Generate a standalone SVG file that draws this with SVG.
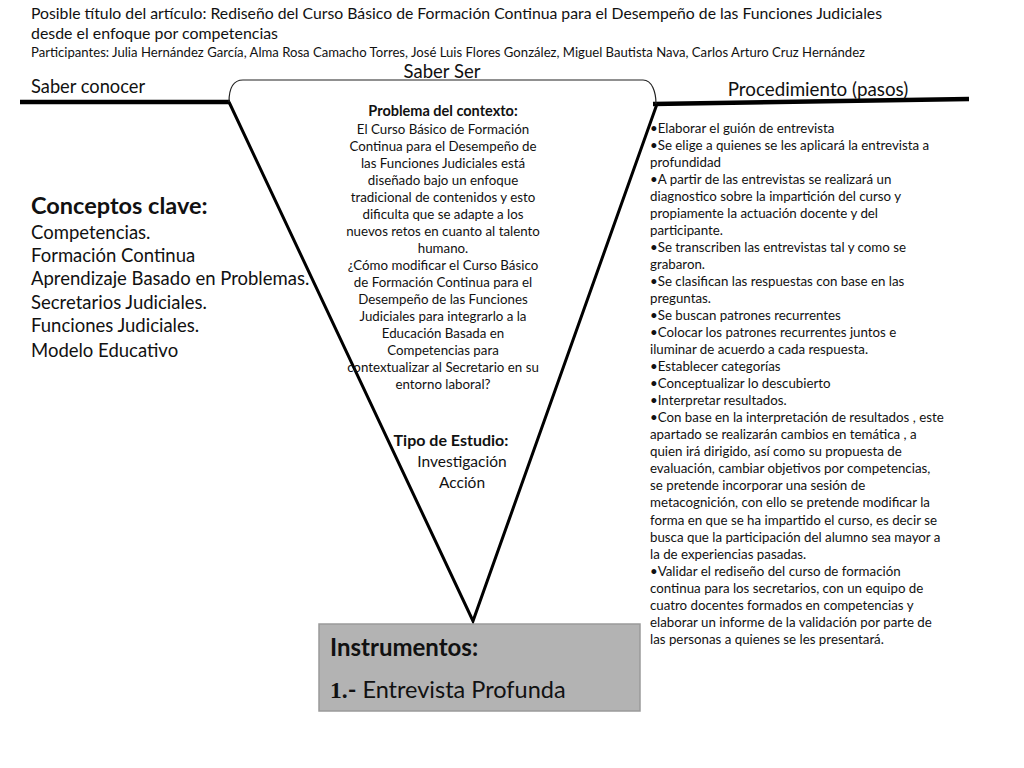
<svg xmlns="http://www.w3.org/2000/svg" width="1024" height="768" viewBox="0 0 1024 768">
<style>
text{font-family:Lato,"Open Sans","Liberation Sans",sans-serif;fill:#111}
.t{font-size:15px}
.p{font-size:13px}
.c{font-size:13.3px;text-anchor:middle}
.b{font-weight:bold}
.k{font-size:18.5px}
.r{font-size:13.3px}
.thick{stroke:#000;stroke-width:4.5;fill:none}
.v{stroke:#000;stroke-width:3;fill:none}
</style>
<rect width="1024" height="768" fill="#fff"/>
<g id="title">
<text class="t" x="31" y="19" textLength="851" lengthAdjust="spacingAndGlyphs">Posible título del artículo: Rediseño del Curso Básico de Formación Continua para el Desempeño de las Funciones Judiciales</text>
<text class="t" x="31" y="39" textLength="247" lengthAdjust="spacingAndGlyphs">desde el enfoque por competencias</text>
<text class="p" x="31" y="57" textLength="834" lengthAdjust="spacingAndGlyphs">Participantes: Julia Hernández García, Alma Rosa Camacho Torres, José Luis Flores González, Miguel Bautista Nava, Carlos Arturo Cruz Hernández</text>
</g>
<g id="connectors">
<path class="thick" d="M20,102 L230,102"/>
<path class="thick" d="M653,104 L969,99"/>
<path class="v" d="M229,102 L473,621 L657,104"/>
<path d="M229,102 C229,90 232,80 243,80 L643,80 C652,80 656,92 656,104" stroke="#222" stroke-width="1.2" fill="none"/>
</g>
<g id="labels">
<text x="442" y="78" style="font-size:18.5px;text-anchor:middle">Saber Ser</text>
<text x="31" y="93" style="font-size:18.3px">Saber conocer</text>
<text x="818" y="96" style="font-size:18.8px;text-anchor:middle">Procedimiento (pasos)</text>
</g>
<g id="problema">
<text class="c b" x="443" y="116" style="font-size:14.5px">Problema del contexto:</text>
<text class="c" x="443" y="134">El Curso Básico de Formación</text>
<text class="c" x="443" y="151">Continua para el Desempeño de</text>
<text class="c" x="443" y="168">las Funciones Judiciales está</text>
<text class="c" x="443" y="185">diseñado bajo un enfoque</text>
<text class="c" x="443" y="202">tradicional de contenidos y esto</text>
<text class="c" x="443" y="219">dificulta que se adapte a los</text>
<text class="c" x="443" y="236">nuevos retos en cuanto al talento</text>
<text class="c" x="443" y="253">humano.</text>
<text class="c" x="443" y="270">¿Cómo modificar el Curso Básico</text>
<text class="c" x="443" y="287">de Formación Continua para el</text>
<text class="c" x="443" y="304">Desempeño de las Funciones</text>
<text class="c" x="443" y="321">Judiciales para integrarlo a la</text>
<text class="c" x="443" y="338">Educación Basada en</text>
<text class="c" x="443" y="355">Competencias para</text>
<text class="c" x="443" y="372">contextualizar al Secretario en su</text>
<text class="c" x="443" y="389">entorno laboral?</text>
</g>
<g id="tipo">
<text x="451" y="446" class="b" style="font-size:16px;text-anchor:middle">Tipo de Estudio:</text>
<text x="462" y="467" style="font-size:15.5px;text-anchor:middle">Investigación</text>
<text x="462" y="488" style="font-size:15.5px;text-anchor:middle">Acción</text>
</g>
<g id="conceptos">
<text x="31" y="214" class="b" style="font-size:23.5px">Conceptos clave:</text>
<text class="k" x="31" y="239">Competencias.</text>
<text class="k" x="31" y="262">Formación Continua</text>
<text class="k" x="31" y="285">Aprendizaje Basado en Problemas.</text>
<text class="k" x="31" y="309">Secretarios Judiciales.</text>
<text class="k" x="31" y="332">Funciones Judiciales.</text>
<text class="k" x="31" y="357">Modelo Educativo</text>
</g>
<g id="procedimiento">
<text class="r" x="650" y="133">•Elaborar el guión de entrevista</text>
<text class="r" x="650" y="150">•Se elige a quienes se les aplicará la entrevista a</text>
<text class="r" x="650" y="167">profundidad</text>
<text class="r" x="650" y="184">•A partir de las entrevistas se  realizará un</text>
<text class="r" x="650" y="201">diagnostico sobre la impartición del curso y</text>
<text class="r" x="650" y="218">propiamente la actuación docente y del</text>
<text class="r" x="650" y="235">participante.</text>
<text class="r" x="650" y="252">•Se transcriben las entrevistas tal y como se</text>
<text class="r" x="650" y="269">grabaron.</text>
<text class="r" x="650" y="286">•Se clasifican las respuestas con base en las</text>
<text class="r" x="650" y="303">preguntas.</text>
<text class="r" x="650" y="320">•Se buscan patrones recurrentes</text>
<text class="r" x="650" y="337">•Colocar los patrones recurrentes juntos  e</text>
<text class="r" x="650" y="354">iluminar de acuerdo a cada respuesta.</text>
<text class="r" x="650" y="371">•Establecer categorías</text>
<text class="r" x="650" y="388">•Conceptualizar lo descubierto</text>
<text class="r" x="650" y="405">•Interpretar resultados.</text>
<text class="r" x="650" y="422">•Con base en la interpretación de resultados , este</text>
<text class="r" x="650" y="439">apartado se  realizarán cambios en temática , a</text>
<text class="r" x="650" y="456">quien irá dirigido, así como su propuesta de</text>
<text class="r" x="650" y="473">evaluación, cambiar objetivos por competencias,</text>
<text class="r" x="650" y="490">se pretende incorporar una sesión de</text>
<text class="r" x="650" y="507">metacognición, con ello se pretende modificar la</text>
<text class="r" x="650" y="525">forma en que se ha impartido el curso, es decir se</text>
<text class="r" x="650" y="542">busca que la participación del alumno sea mayor a</text>
<text class="r" x="650" y="559">la de experiencias pasadas.</text>
<text class="r" x="650" y="576">•Validar el rediseño del curso de formación</text>
<text class="r" x="650" y="593">continua para los secretarios, con un equipo de</text>
<text class="r" x="650" y="610">cuatro docentes formados en competencias y</text>
<text class="r" x="650" y="627">elaborar un informe de la validación por parte de</text>
<text class="r" x="650" y="644">las personas a quienes se les presentará.</text>
</g>
<g id="instrumentos">
<rect x="319" y="624" width="321" height="87" fill="#b3b3b3" stroke="#9a9a9a" stroke-width="1.5"/>
<text x="330" y="656" class="b" style="font-size:24px">Instrumentos:</text>
<text x="330" y="698" style="font-size:23.5px"><tspan style="font-family:'Liberation Serif',serif;font-weight:bold">1.</tspan><tspan class="b">-</tspan> Entrevista Profunda</text>
</g>
</svg>
